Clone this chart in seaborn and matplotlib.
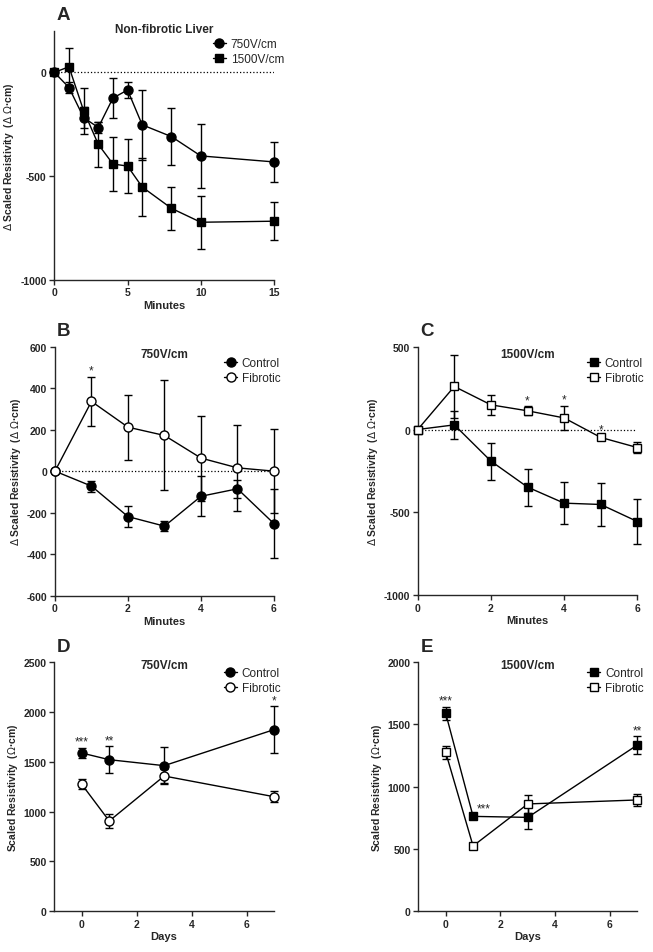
import numpy as np
import pandas as pd
import matplotlib
matplotlib.use("Agg")
import matplotlib.pyplot as plt
import seaborn as sns

sns.set_style("ticks")
plt.rcParams['font.family'] = ['Liberation Sans', 'DejaVu Sans']
plt.rcParams['mathtext.fontset'] = 'dejavusans'
plt.rcParams['axes.unicode_minus'] = False

# ---- data ----
# A: non-fibrotic liver, change in resistivity vs minutes
a_minutes = [0, 1, 2, 3, 4, 5, 6, 8, 10, 15]
a_750 = [0, -73, -218, -266, -124, -85, -253, -310, -403, -432]
a_750_err = [0, 25, 50, 27, 95, 40, 168, 138, 155, 97]
a_1500 = [0, 27, -185, -347, -442, -452, -553, -656, -723, -718]
a_1500_err = [0, 90, 110, 110, 128, 130, 138, 105, 127, 93]

# B: 750V/cm control vs fibrotic
b_minutes = [0, 1, 2, 3, 4, 5, 6]
b_ctrl = [0, -72, -219, -265, -121, -85, -253]
b_ctrl_err = [0, 27, 51, 25, 96, 42, 165]
b_fib = [0, 336, 212, 172, 63, 16, 0]
b_fib_err = [0, 120, 157, 265, 205, 207, 202]
b_stars = ['', '*', '', '', '', '', '']

# C: 1500V/cm control vs fibrotic
c_minutes = [0, 1, 2, 3, 4, 5, 6]
c_ctrl = [0, 28, -191, -348, -445, -453, -556]
c_ctrl_err = [0, 85, 112, 112, 127, 131, 138]
c_fib = [0, 260, 149, 113, 70, -48, -109]
c_fib_err = [0, 193, 62, 28, 75, 10, 33]
c_stars = ['', '', '', '*', '*', '*', '']

# D: 750V/cm scaled resistivity over days
d_days = [0, 1, 3, 7]
d_ctrl = [1588, 1521, 1461, 1823]
d_ctrl_err = [52, 135, 185, 237]
d_fib = [1273, 905, 1357, 1149]
d_fib_err = [50, 70, 73, 55]
d_stars = ['***', '**', '', '*']

# E: 1500V/cm scaled resistivity over days
e_days = [0, 1, 3, 7]
e_ctrl = [1590, 761, 753, 1335]
e_ctrl_err = [52, 15, 90, 70]
e_fib = [1276, 523, 861, 893]
e_fib_err = [50, 15, 75, 50]
e_stars = ['***', '***', '', '**']

delta_label = r'$\Delta$ Scaled Resistivity  ($\Delta$ $\Omega$·cm)'
abs_label = r'Scaled Resistivity  ($\Omega$·cm)'


def draw_series(ax, x, y, err, marker, filled, label):
    df = pd.DataFrame({'x': x, 'y': y})
    eb = ax.errorbar(x, y, yerr=err, fmt='none', ecolor='black', elinewidth=1,
                     capsize=3, capthick=1, zorder=2)
    for art in eb.lines[1] + eb.lines[2]:
        art.set_clip_on(False)
    sns.lineplot(data=df, x='x', y='y', ax=ax, color='black', lw=1,
                 marker=marker, markersize=6.5 if marker == 'o' else 6,
                 markerfacecolor='black' if filled else 'white',
                 markeredgecolor='black', markeredgewidth=1,
                 label=label, errorbar=None, zorder=3, clip_on=False)


def add_stars(ax, x, y, err, stars, dx=0):
    for xi, yi, ei, s in zip(x, y, err, stars):
        if s:
            ax.annotate(s, (xi, yi + ei), xytext=(dx, 0), textcoords='offset points',
                        ha='center', va='bottom', fontsize=8.5)


def style_axes(ax, xlim, xticks, ylim, yticks, xlabel, ylabel, title, title_y, leg_xy, letter):
    ax.set_xlim(*xlim)
    ax.set_ylim(*ylim)
    ax.set_xticks(xticks)
    ax.set_yticks(yticks)
    ax.set_xlabel(xlabel, fontsize=8, fontweight='bold', labelpad=2)
    ax.set_ylabel(ylabel, fontsize=7.5, fontweight='bold', labelpad=3)
    ax.tick_params(direction='out', length=3.5, width=1, labelsize=7.5, pad=2)
    for lab in ax.get_xticklabels() + ax.get_yticklabels():
        lab.set_fontweight('bold')
    for sp in ['left', 'bottom']:
        ax.spines[sp].set_linewidth(1)
    sns.despine(ax=ax)
    ax.text(0.5, title_y, title, transform=ax.transAxes, ha='center', va='center',
            fontsize=8.5, fontweight='bold')
    ax.text(0.04, 1.065, letter, transform=ax.transAxes, ha='center', va='center',
            fontsize=13.5, fontweight='bold')
    ax.legend(loc='upper left', bbox_to_anchor=leg_xy, frameon=False, fontsize=8.5,
              handlelength=1.1, handletextpad=0.4, labelspacing=0.25,
              borderpad=0, borderaxespad=0)


fig = plt.figure(figsize=(6.53, 9.53), dpi=100)
axA = fig.add_axes([0.0832, 0.7055, 0.3364, 0.261])
axB = fig.add_axes([0.0842, 0.3739, 0.3354, 0.2613])
axC = fig.add_axes([0.6397, 0.3746, 0.3363, 0.2605])
axD = fig.add_axes([0.0832, 0.0430, 0.3364, 0.2610])
axE = fig.add_axes([0.6406, 0.0430, 0.3354, 0.2610])

# A
axA.axhline(0, ls=':', color='black', lw=0.9, zorder=1)
draw_series(axA, a_minutes, a_750, a_750_err, 'o', True, '750V/cm')
draw_series(axA, a_minutes, a_1500, a_1500_err, 's', True, '1500V/cm')
style_axes(axA, (0, 15), [0, 5, 10, 15], (-1000, 200), [-1000, -500, 0],
           'Minutes', delta_label, 'Non-fibrotic Liver', 1.008, (0.722, 0.972), 'A')

# B
axB.axhline(0, ls=':', color='black', lw=0.9, zorder=1)
draw_series(axB, b_minutes, b_ctrl, b_ctrl_err, 'o', True, 'Control')
draw_series(axB, b_minutes, b_fib, b_fib_err, 'o', False, 'Fibrotic')
add_stars(axB, b_minutes, b_fib, b_fib_err, b_stars)
style_axes(axB, (0, 6), [0, 2, 4, 6], (-600, 600), [-600, -400, -200, 0, 200, 400, 600],
           'Minutes', delta_label, '750V/cm', 0.971, (0.772, 0.959), 'B')

# C
axC.axhline(0, ls=':', color='black', lw=0.9, zorder=1)
draw_series(axC, c_minutes, c_ctrl, c_ctrl_err, 's', True, 'Control')
draw_series(axC, c_minutes, c_fib, c_fib_err, 's', False, 'Fibrotic')
add_stars(axC, c_minutes, c_fib, c_fib_err, c_stars)
style_axes(axC, (0, 6), [0, 2, 4, 6], (-1000, 500), [-1000, -500, 0, 500],
           'Minutes', delta_label, '1500V/cm', 0.971, (0.771, 0.959), 'C')

# D
draw_series(axD, d_days, d_ctrl, d_ctrl_err, 'o', True, 'Control')
draw_series(axD, d_days, d_fib, d_fib_err, 'o', False, 'Fibrotic')
add_stars(axD, d_days, d_ctrl, d_ctrl_err, d_stars)
style_axes(axD, (-1, 7), [0, 2, 4, 6], (0, 2500), [0, 500, 1000, 1500, 2000, 2500],
           'Days', abs_label, '750V/cm', 0.989, (0.772, 0.981), 'D')

# E
draw_series(axE, e_days, e_ctrl, e_ctrl_err, 's', True, 'Control')
draw_series(axE, e_days, e_fib, e_fib_err, 's', False, 'Fibrotic')
add_stars(axE, e_days, e_ctrl, e_ctrl_err, ['***', '', '', '**'])
add_stars(axE, e_days, e_ctrl, e_ctrl_err, ['', '***', '', ''], dx=8)
style_axes(axE, (-1, 7), [0, 2, 4, 6], (0, 2000), [0, 500, 1000, 1500, 2000],
           'Days', abs_label, '1500V/cm', 0.989, (0.772, 0.981), 'E')

fig.savefig('out.png', dpi=100)
